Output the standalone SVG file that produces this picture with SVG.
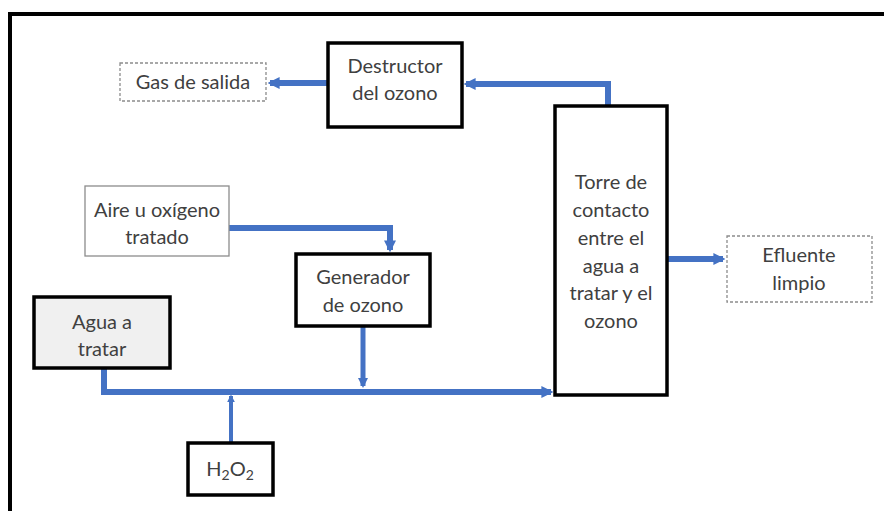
<svg xmlns="http://www.w3.org/2000/svg" width="884" height="511" viewBox="0 0 884 511">
<defs>
<style>
.t{font-family:Lato,"Open Sans","Liberation Sans",sans-serif;font-size:20px;fill:#404040;text-anchor:middle;}
.bx{fill:#ffffff;stroke:#000000;stroke-width:3.5;}
.dash{fill:#ffffff;stroke:#8c8c8c;stroke-width:1.3;stroke-dasharray:3 2;}
.thin{fill:#ffffff;stroke:#8c8c8c;stroke-width:1.3;}
.c{fill:none;stroke:#4472C4;stroke-width:6;}
</style>
<marker id="ah" viewBox="0 0 10 10" refX="8" refY="5" markerWidth="2" markerHeight="2" orient="auto" markerUnits="strokeWidth">
<path d="M0,0 L10,5 L0,10 z" fill="#4472C4"/>
</marker>
</defs>
<rect x="0" y="0" width="884" height="511" fill="#ffffff"/>
<g id="frame">
<path d="M10,511 V14 H884" fill="none" stroke="#000000" stroke-width="4"/>
</g>
<g id="connectors">
<path class="c" d="M328,83 H270" marker-end="url(#ah)"/>
<path class="c" d="M608,106 V84 H466" marker-end="url(#ah)"/>
<path class="c" d="M229,228 H390 V250" marker-end="url(#ah)"/>
<path class="c" style="stroke-width:5" d="M363,326 V386" marker-end="url(#ah)"/>
<path class="c" d="M104,368 V392 H551" marker-end="url(#ah)"/>
<path class="c" style="stroke-width:4" d="M231,443 V396" marker-end="url(#ah)"/>
<path class="c" d="M667,259 H723" marker-end="url(#ah)"/>
</g>
<g id="gas">
<rect class="dash" x="120" y="63" width="146" height="38"/>
<text class="t" x="193" y="89">Gas de salida</text>
</g>
<g id="destructor">
<rect class="bx" x="328" y="43" width="134" height="84"/>
<text class="t" x="395" y="73">Destructor</text>
<text class="t" x="395" y="100">del ozono</text>
</g>
<g id="torre">
<rect class="bx" x="555" y="106" width="112" height="289"/>
<text class="t" x="611" y="189">Torre de</text>
<text class="t" x="611" y="217">contacto</text>
<text class="t" x="611" y="245">entre el</text>
<text class="t" x="611" y="273">agua a</text>
<text class="t" x="611" y="300">tratar y el</text>
<text class="t" x="611" y="328">ozono</text>
</g>
<g id="efluente">
<rect class="dash" x="727" y="236" width="145" height="66"/>
<text class="t" x="799" y="262">Efluente</text>
<text class="t" x="799" y="290">limpio</text>
</g>
<g id="aire">
<rect class="thin" x="85" y="186" width="144" height="70"/>
<text class="t" x="157" y="217">Aire u oxígeno</text>
<text class="t" x="157" y="244">tratado</text>
</g>
<g id="generador">
<rect class="bx" x="296" y="254" width="134" height="72"/>
<text class="t" x="363" y="284">Generador</text>
<text class="t" x="363" y="312">de ozono</text>
</g>
<g id="agua">
<rect class="bx" style="fill:#f0f0f0" x="34" y="297" width="136" height="71"/>
<text class="t" x="102" y="329">Agua a</text>
<text class="t" x="102" y="356">tratar</text>
</g>
<g id="h2o2">
<rect class="bx" x="188" y="443" width="85" height="52"/>
<text class="t" x="230" y="476">H<tspan font-size="14" dy="4">2</tspan><tspan dy="-4">O</tspan><tspan font-size="14" dy="4">2</tspan></text>
</g>
</svg>
